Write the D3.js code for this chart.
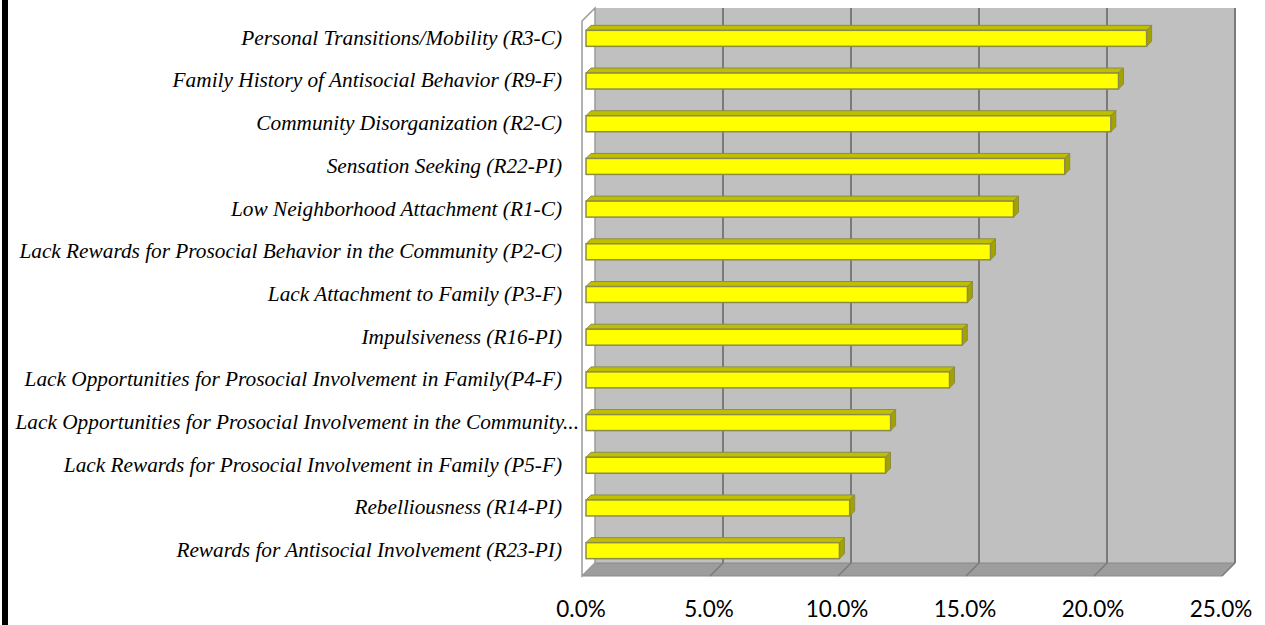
<!DOCTYPE html>
<html>
<head>
<meta charset="utf-8">
<script src="https://cdn.jsdelivr.net/npm/d3@7"></script>
<style>
  body { margin: 0; background: #fff; }
  svg { display: block; }
</style>
</head>
<body>
<script>
const width = 1265;
const height = 625;

// data (share of respondents, %)
const categories = [
  "Personal Transitions/Mobility (R3-C)",
  "Family History of Antisocial Behavior (R9-F)",
  "Community Disorganization (R2-C)",
  "Sensation Seeking (R22-PI)",
  "Low Neighborhood Attachment (R1-C)",
  "Lack Rewards for Prosocial Behavior in the Community (P2-C)",
  "Lack Attachment to Family (P3-F)",
  "Impulsiveness (R16-PI)",
  "Lack Opportunities for Prosocial Involvement in Family(P4-F)",
  "Lack Opportunities for Prosocial Involvement in the Community...",
  "Lack Rewards for Prosocial Involvement in Family (P5-F)",
  "Rebelliousness (R14-PI)",
  "Rewards for Antisocial Involvement (R23-PI)"
];
const values = [21.9, 20.8, 20.5, 18.7, 16.7, 15.8, 14.9, 14.7, 14.2, 11.9, 11.7, 10.3, 9.9];
const ticks = [0, 5, 10, 15, 20, 25];

const svg = d3.select("body").append("svg")
  .attr("width", width)
  .attr("height", height);

// left black rule
svg.append("rect")
  .attr("x", 2).attr("y", 0)
  .attr("width", 6).attr("height", height)
  .attr("fill", "#000");

// back wall scales
const x = d3.scaleLinear().domain([0, 25]).range([595, 1235]);
const y = d3.scaleBand().domain(categories).range([8, 563]);

const depth = 13;      // floor / side wall depth offset
const barFront = 9;    // bar front face offset from back wall
const barBack = 4;     // bar back face offset
const barH = 16;

const x0 = x.range()[0], x1 = x.range()[1];
const y0 = y.range()[0], y1 = y.range()[1];

// back wall
svg.append("rect")
  .attr("x", x0).attr("y", y0)
  .attr("width", x1 - x0).attr("height", y1 - y0)
  .attr("fill", "#c0c0c0");

// floor
svg.append("path")
  .attr("d", `M${x0},${y1}L${x1},${y1}L${x1 - depth},${y1 + depth}L${x0 - depth},${y1 + depth}Z`)
  .attr("fill", "#9d9d9d")
  .attr("stroke", "#8a8a8a")
  .attr("stroke-width", 1);

// side wall
svg.append("path")
  .attr("d", `M${x0},${y0}L${x0 - depth},${y0 + depth}L${x0 - depth},${y1 + depth}L${x0},${y1}Z`)
  .attr("fill", "#fff")
  .attr("stroke", "#9a9a9a")
  .attr("stroke-width", 1.5);

// gridlines
const grid = svg.append("g");
grid.selectAll("line.v")
  .data(ticks.slice(1))
  .join("line")
  .attr("class", "v")
  .attr("x1", d => x(d)).attr("x2", d => x(d))
  .attr("y1", y0).attr("y2", y1)
  .attr("stroke", "#7a7a7a")
  .attr("stroke-width", 2);
grid.selectAll("line.f")
  .data(ticks.slice(1))
  .join("line")
  .attr("class", "f")
  .attr("x1", d => x(d)).attr("y1", y1)
  .attr("x2", d => x(d) - depth).attr("y2", y1 + depth)
  .attr("stroke", "#7a7a7a")
  .attr("stroke-width", 1.5);

// bars
const bars = svg.append("g")
  .selectAll("g")
  .data(categories.map((c, i) => ({ c, v: values[i] })))
  .join("g");

const cy = d => y(d.c) + y.bandwidth() / 2;

// top face
bars.append("path")
  .attr("d", d => {
    const t = cy(d) + barFront - barH / 2;
    const l = x(0) - barFront, r = x(d.v) - barFront;
    const o = barFront - barBack;
    return `M${l},${t}L${l + o},${t - o}L${r + o},${t - o}L${r},${t}Z`;
  })
  .attr("fill", "#bfbf00")
  .attr("stroke", "#8c8c4a")
  .attr("stroke-width", 1);

// side face
bars.append("path")
  .attr("d", d => {
    const t = cy(d) + barFront - barH / 2;
    const r = x(d.v) - barFront;
    const o = barFront - barBack;
    return `M${r},${t}L${r + o},${t - o}L${r + o},${t - o + barH}L${r},${t + barH}Z`;
  })
  .attr("fill", "#a3a300")
  .attr("stroke", "#8c8c4a")
  .attr("stroke-width", 1);

// front face
bars.append("rect")
  .attr("x", x(0) - barFront)
  .attr("y", d => cy(d) + barFront - barH / 2)
  .attr("width", d => x(d.v) - x(0))
  .attr("height", barH)
  .attr("fill", "#ffff00")
  .attr("stroke", "#8c8c4a")
  .attr("stroke-width", 1.5);

// category labels
svg.append("g")
  .selectAll("text")
  .data(categories)
  .join("text")
  .attr("x", d => d.endsWith("...") ? 579 : 562)
  .attr("y", d => y(d) + y.bandwidth() / 2 + barFront - 1)
  .attr("dy", "0.35em")
  .attr("text-anchor", "end")
  .attr("font-family", "Liberation Serif, Times New Roman, serif")
  .attr("font-style", "italic")
  .attr("font-size", 21.3)
  .attr("fill", "#000")
  .text(d => d);

// value axis labels
svg.append("g")
  .selectAll("text")
  .data(ticks)
  .join("text")
  .attr("x", d => x(d) - depth - 1)
  .attr("y", 617)
  .attr("text-anchor", "middle")
  .attr("font-family", "Lato, Open Sans, sans-serif")
  .attr("font-size", 22.5)
  .attr("fill", "#000")
  .text(d => d3.format(".1f")(d) + "%");
</script>
</body>
</html>
